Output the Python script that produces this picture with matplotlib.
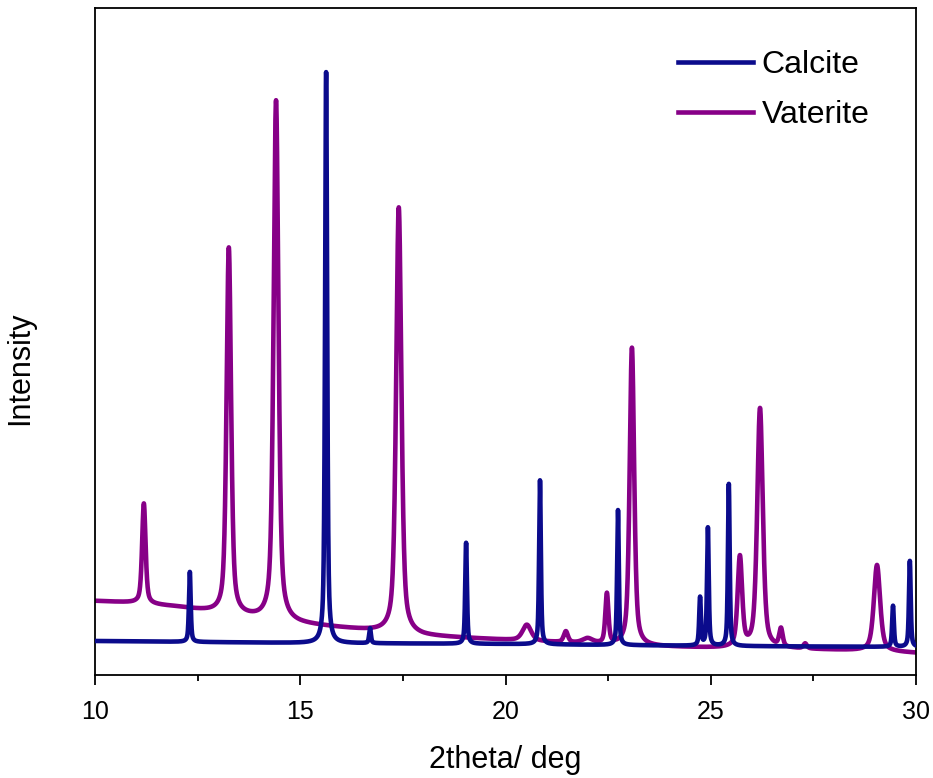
import numpy as np
import matplotlib
matplotlib.use("Agg")
import matplotlib.pyplot as plt

plt.rcParams['font.family'] = ['Liberation Sans', 'DejaVu Sans']

# ---- data (intensity in arbitrary units) ----
# Calcite: baseline anchors and peaks (position, height, FWHM)
calcite_base_x = [10, 15, 20, 25, 30]
calcite_base_y = [34, 32, 31, 29, 28]
calcite_pos    = [12.31, 15.63, 16.70, 19.04, 20.84, 22.74, 24.74, 24.93, 25.44, 29.44, 29.85]
calcite_height = [70,    571,   15,    101,   164,   135,   48,    118,   162,   41,    86]
calcite_fwhm   = [0.05,  0.06,  0.05,  0.05,  0.05,  0.05,  0.05,  0.05,  0.05,  0.05,  0.05]

# Vaterite: baseline anchors and peaks (position, height, FWHM)
vaterite_base_x = [10, 11, 12, 13, 14, 15, 16, 17, 18, 19, 20, 21, 22, 23, 24, 25, 26, 27, 28, 29, 30]
vaterite_base_y = [74, 72, 68, 62, 56, 51, 47, 43, 39, 37, 35, 33, 31, 29, 28, 27, 26, 26, 25, 24, 22]
vaterite_pos    = [11.19, 13.26, 14.41, 17.40, 20.52, 21.47, 22.00, 22.47, 23.08, 25.71, 26.20, 26.71, 27.30, 29.05]
vaterite_height = [100,   366,   520,   426,   16,    11,    5,     50,    298,   90,    240,   18,    5,     86]
vaterite_fwhm   = [0.10,  0.13,  0.14,  0.15,  0.25,  0.12,  0.3,   0.09,  0.13,  0.13,  0.16,  0.1,   0.1,   0.18]

x_min, x_max = 10, 30
x_ticks = [10, 15, 20, 25, 30]


def pattern(xg, bx, by, pos, hts, fw, eta):
    y = np.interp(xg, bx, by).astype(float)
    for p, h, w in zip(pos, hts, fw):
        g = w / 2.0
        lor = g**2 / ((xg - p)**2 + g**2)
        gau = np.exp(-4 * np.log(2) * (xg - p)**2 / w**2)
        y += h * (eta * lor + (1 - eta) * gau)
    return y


xg = np.linspace(x_min, x_max, 8001)
y_cal = pattern(xg, calcite_base_x, calcite_base_y, calcite_pos, calcite_height, calcite_fwhm, 0.6)
y_vat = pattern(xg, vaterite_base_x, vaterite_base_y, vaterite_pos, vaterite_height, vaterite_fwhm, 0.55)

fig = plt.figure(figsize=(9.33, 7.78), dpi=100)
ax = fig.add_axes([95/933, 103/778, 821/933, 667/778])

ax.plot(xg, y_vat, color='#870087', lw=3.3, label='Vaterite', zorder=2)
ax.plot(xg, y_cal, color='#0b0b8c', lw=3.3, label='Calcite', zorder=3)

ax.set_xlim(x_min, x_max)
ax.set_ylim(0, 667)
ax.set_xticks(x_ticks)
ax.set_xticks([12.5, 17.5, 22.5, 27.5], minor=True)
ax.tick_params(axis='x', which='major', direction='out', length=7, width=1.3,
               labelsize=18, pad=11, top=False)
ax.tick_params(axis='x', which='minor', direction='out', length=4, width=1.3, top=False)
ax.set_yticks([])
for s in ax.spines.values():
    s.set_linewidth(1.3)

ax.set_xlabel('2theta/ deg', fontsize=22, labelpad=15)
ax.set_ylabel('Intensity', fontsize=22)
ax.yaxis.set_label_coords(-0.073, 0.46)

h, l = ax.get_legend_handles_labels()
leg = ax.legend(h[::-1], l[::-1], loc='upper left',
                bbox_to_anchor=(678/933, 1 - 50/778), bbox_transform=fig.transFigure,
                frameon=False, fontsize=23, handlelength=2.35, labelspacing=0.64,
                handletextpad=0.26, borderpad=0, borderaxespad=0)

fig.savefig('out.png', dpi=100, facecolor='white')
